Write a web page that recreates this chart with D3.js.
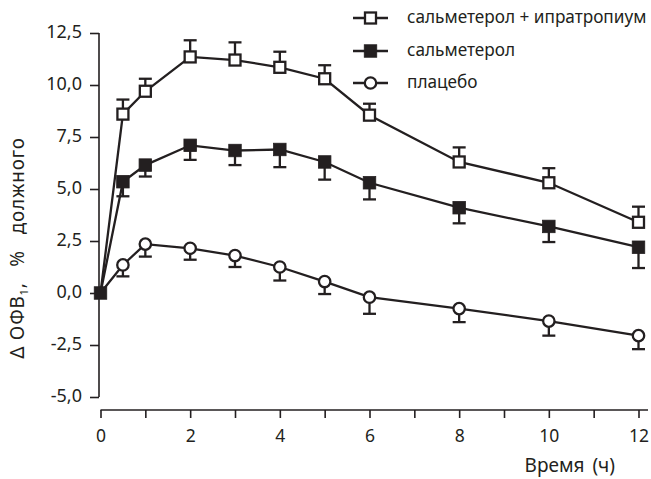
<!DOCTYPE html>
<html><head><meta charset="utf-8">
<script src="https://cdn.jsdelivr.net/npm/d3@7"></script>
<style>
body{margin:0;background:#fff;}
text{font-family:"Noto Sans",sans-serif;fill:#231f20;}
</style></head>
<body><svg id="c" width="651" height="479"></svg>
<script>
const hours = [0, 0.5, 1, 2, 3, 4, 5, 6, 8, 10, 12];
const seriesNames = ["сальметерол + ипратропиум", "сальметерол", "плацебо"];
const comboValues = [0, 8.6, 9.7, 11.35, 11.2, 10.85, 10.3, 8.55, 6.3, 5.3, 3.4];
const comboErrors = [0, 0.7, 0.6, 0.8, 0.85, 0.75, 0.65, 0.55, 0.7, 0.7, 0.75];
const salmValues = [0, 5.35, 6.15, 7.1, 6.85, 6.9, 6.3, 5.3, 4.1, 3.2, 2.2];
const salmErrors = [0, 0.7, 0.55, 0.7, 0.7, 0.85, 0.85, 0.8, 0.75, 0.75, 1.0];
const placValues = [0, 1.35, 2.35, 2.15, 1.8, 1.25, 0.55, -0.2, -0.75, -1.35, -2.05];
const placErrors = [0, 0.55, 0.6, 0.55, 0.55, 0.65, 0.6, 0.8, 0.65, 0.7, 0.65];
const yTicks = [-5, -2.5, 0, 2.5, 5, 7.5, 10, 12.5];
const xTicks = [0,1,2,3,4,5,6,7,8,9,10,11,12];
const xLabels = [0,2,4,6,8,10,12];

const ink = "#231f20";
const svg = d3.select("#c");
const x = d3.scaleLinear().domain([0, 12]).range([100.5, 638.5]);
const y = d3.scaleLinear().domain([-5, 12.5]).range([397, 33]);

// Y axis
const yAxis = d3.axisLeft(y).tickValues(yTicks).tickSize(9).tickPadding(8)
  .tickFormat(d => d3.format(".1f")(d).replace(".", ",").replace("−", "-"));
const gy = svg.append("g").attr("transform", "translate(99,0)").call(yAxis);
gy.select(".domain").attr("d", `M0,${y(12.5)}V${y(-5)}`);
gy.selectAll("path,line").attr("stroke", ink).attr("stroke-width", 1.6);
gy.selectAll("text").attr("font-size", 18).attr("dy", "0.26em").style("font-family", "Noto Sans");

// X axis
const xAxis = d3.axisBottom(x).tickValues(xTicks).tickSize(8).tickPadding(5)
  .tickFormat(d => xLabels.includes(d) ? d : "");
const gx = svg.append("g").attr("transform", "translate(0,410)").call(xAxis);
gx.select(".domain").attr("d", `M${x(0)},0H648`);
gx.selectAll("path,line").attr("stroke", ink).attr("stroke-width", 1.6);
gx.selectAll("text").attr("font-size", 17.5).attr("dy", "1.06em").style("font-family", "Noto Sans");

// Titles
svg.append("text").attr("x", 615).attr("y", 472).attr("text-anchor", "end")
  .attr("font-size", 19).attr("word-spacing", 3).text("Время (ч)");
const yt = svg.append("text").attr("transform", "translate(24,248) rotate(-90)")
  .attr("text-anchor", "middle").attr("font-size", 19).attr("letter-spacing", 0.8);
yt.append("tspan").text("Δ ОФВ");
yt.append("tspan").attr("font-size", 11).attr("dy", 4).text("1");
yt.append("tspan").attr("dy", -4).attr("word-spacing", 10).text(", % должного");

const series = [
  {name: seriesNames[0], v: comboValues, e: comboErrors, dir: 1, shape: "sq", fill: "#fff"},
  {name: seriesNames[2], v: placValues, e: placErrors, dir: -1, shape: "ci", fill: "#fff"},
  {name: seriesNames[1], v: salmValues, e: salmErrors, dir: -1, shape: "sq", fill: ink}
];

function marker(g, shape, fill, cx, cy) {
  if (shape === "sq") {
    const s = fill === "#fff" ? 11 : 12.5;
    g.append("rect").attr("x", cx - s/2).attr("y", cy - s/2).attr("width", s).attr("height", s)
      .attr("fill", fill).attr("stroke", ink).attr("stroke-width", fill === "#fff" ? 2.3 : 0.8);
  } else {
    g.append("circle").attr("cx", cx).attr("cy", cy).attr("r", 5.7)
      .attr("fill", fill).attr("stroke", ink).attr("stroke-width", 2.3);
  }
}

const line = d3.line().x(d => x(d[0])).y(d => y(d[1]));
// error bars
series.forEach(s => {
  const g = svg.append("g");
  hours.forEach((h, i) => {
    if (s.e[i] === 0) return;
    const y1 = y(s.v[i]), y2 = y(s.v[i] + s.dir * s.e[i]);
    g.append("line").attr("x1", x(h)).attr("x2", x(h)).attr("y1", y1).attr("y2", y2)
      .attr("stroke", ink).attr("stroke-width", 2.3);
    g.append("line").attr("x1", x(h) - 6.5).attr("x2", x(h) + 6.5).attr("y1", y2).attr("y2", y2)
      .attr("stroke", ink).attr("stroke-width", 2.3);
  });
});
// lines
series.forEach(s => {
  svg.append("path").datum(hours.map((h, i) => [h, s.v[i]])).attr("d", line)
    .attr("fill", "none").attr("stroke", ink).attr("stroke-width", 2.3);
});
// markers
series.forEach(s => {
  const g = svg.append("g");
  hours.forEach((h, i) => {
    if (i === 0 && s.fill !== ink) return;
    marker(g, s.shape, s.fill, x(h), y(s.v[i]));
  });
});

// legend
const legend = [
  {name: seriesNames[0], shape: "sq", fill: "#fff"},
  {name: seriesNames[1], shape: "sq", fill: ink},
  {name: seriesNames[2], shape: "ci", fill: "#fff"}
];
const ly = [18, 51, 83];
legend.forEach((l, i) => {
  const g = svg.append("g");
  g.append("line").attr("x1", 353).attr("x2", 388).attr("y1", ly[i]).attr("y2", ly[i])
    .attr("stroke", ink).attr("stroke-width", 2.3);
  marker(g, l.shape, l.fill, 370.5, ly[i]);
  g.append("text").attr("x", 407).attr("y", ly[i]).attr("dy", "0.3em")
    .attr("font-size", 17.2).text(l.name);
});
</script></body></html>
